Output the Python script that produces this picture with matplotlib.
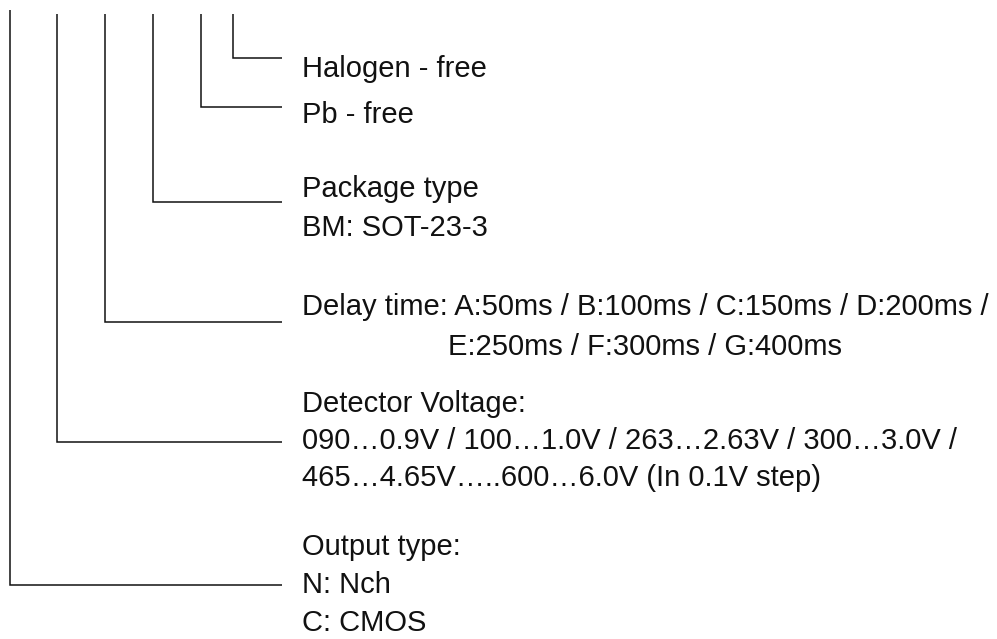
#!/usr/bin/env python3
"""Part-number ordering key diagram (tree of branch lines + labels)."""
import matplotlib
matplotlib.use("Agg")
import matplotlib.pyplot as plt

W, H = 997, 639

# branch lines, left (output type) to right (halogen-free)
BRANCH_X   = [10, 57, 105, 153, 201, 233]
BRANCH_TOP = [10, 14, 14, 14, 14, 14]
BRANCH_Y   = [585, 442, 322, 202, 107, 58]
BRANCH_END = 282

# text lines: (x, baseline y, text)
TEXT_X  = [302, 302, 302, 302, 302, 448, 302, 302, 302, 302, 302, 302]
TEXT_Y  = [77, 123, 197, 236, 315, 355, 412, 449, 486, 555, 593, 631]
TEXTS = [
    "Halogen - free",
    "Pb - free",
    "Package type",
    "BM: SOT-23-3",
    "Delay time: A:50ms / B:100ms / C:150ms / D:200ms /",
    "E:250ms / F:300ms / G:400ms",
    "Detector Voltage:",
    "090\u20260.9V / 100\u20261.0V / 263\u20262.63V / 300\u20263.0V /",
    "465\u20264.65V\u2026..600\u20266.0V (In 0.1V step)",
    "Output type:",
    "N: Nch",
    "C: CMOS",
]

plt.rcParams['font.family'] = ['Liberation Sans', 'DejaVu Sans']

fig = plt.figure(figsize=(W / 100, H / 100), dpi=100)
ax = fig.add_axes([0, 0, 1, 1])
ax.set_xlim(0, W)
ax.set_ylim(H, 0)
ax.axis("off")

for x, top, y in zip(BRANCH_X, BRANCH_TOP, BRANCH_Y):
    ax.plot([x, x, BRANCH_END], [top, y, y], color="#111111", lw=1.1,
            solid_joinstyle="miter", solid_capstyle="butt")

for x, y, s in zip(TEXT_X, TEXT_Y, TEXTS):
    ax.text(x, y, s, fontsize=21, color="#111111", ha="left", va="baseline")

fig.savefig("out.png", dpi=100, facecolor="white")
